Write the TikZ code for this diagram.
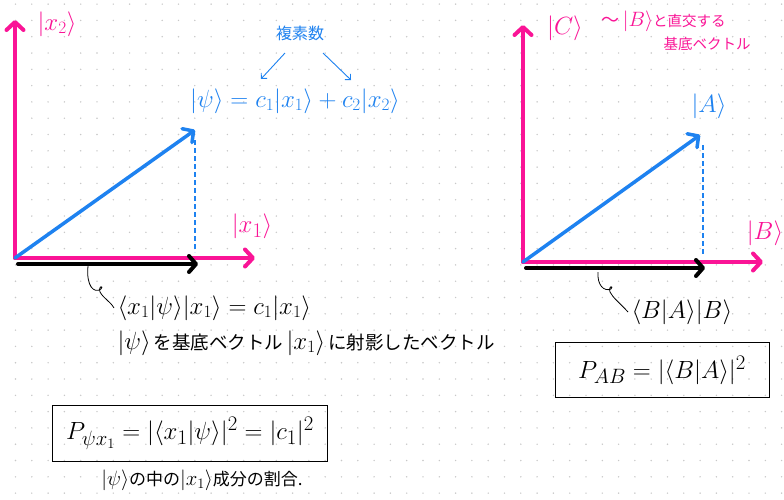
\documentclass[tikz,border=0pt]{standalone}
\usepackage{fontspec}
\newfontfamily\jpfont{Noto Sans CJK JP}
\usetikzlibrary{arrows.meta}
\definecolor{ketpink}{RGB}{250,20,150}
\definecolor{ketblue}{RGB}{30,130,240}
\definecolor{dotgray}{RGB}{200,200,200}
% ket set at a given size inside Japanese text
\newcommand{\inket}[2]{{\fontsize{#1}{#1}\selectfont$#2$}}
\begin{document}
\begin{tikzpicture}[x=1pt,y=-1pt,
    axis/.style={ketpink,line width=4pt,line cap=round,-{Straight Barb[length=8pt,width=17pt,round]}},
    vec/.style={ketblue,line width=3.5pt,line cap=round,-{Straight Barb[length=8pt,width=17pt,round]}},
    proj/.style={black,line width=4pt,line cap=round,-{Straight Barb[length=7pt,width=16pt,round]}},
    drop/.style={ketblue,line width=1.2pt,dash pattern=on 5pt off 3pt},
    pointer/.style={black,line width=0.8pt},
    pinklbl/.style={ketpink,font=\fontsize{28}{32}\selectfont},
    bluelbl/.style={ketblue,font=\fontsize{26}{30}\selectfont},
    note/.style={black,font=\fontsize{23}{26}\selectfont},
    probbox/.style={draw,line width=1pt,inner sep=0pt,font=\fontsize{29}{32}\selectfont}]
    % Background and dotted grid
    \useasboundingbox (0,0) rectangle (784,499);
    \fill[white] (0,0) rectangle (784,499);
    \foreach \gx in {0,...,47}
        \foreach \gy in {0,...,30}
            \fill[dotgray] (15.5+16.3*\gx,4.1+16.3*\gy) circle (0.8);

    % Left panel: basis |x1>, |x2> and state |psi>
    \coordinate (O1) at (15,258);
    \coordinate (X1) at (255,258);
    \coordinate (X2) at (15,20);
    \coordinate (Psi) at (195,130);
    \coordinate (PsiTop) at (195,140);
    \coordinate (PsiFoot) at (195,252);
    \coordinate (ProjLs) at (18,264);
    \coordinate (ProjLe) at (198,264);

    \draw[axis] (O1) -- (X1);
    \draw[axis] (O1) -- (X2);
    \draw[drop] (PsiTop) -- (PsiFoot);
    \draw[vec] (O1) -- (Psi);
    \draw[proj] (ProjLs) -- (ProjLe);

    \node[pinklbl,font=\fontsize{27}{30}\selectfont] (lblx2) at (57,24) {$|x_2\rangle$};
    \node[pinklbl] (lblx1) at (252,226) {$|x_1\rangle$};

    % Expansion of |psi>
    \node[ketblue,font=\jpfont\fontsize{16}{18}\selectfont] (fukuso) at (300,33) {複素数};
    \node[bluelbl] (psieq) at (295,101) {$|\psi\rangle = c_1|x_1\rangle + c_2|x_2\rangle$};
    \coordinate (fa1) at (285,53);
    \coordinate (fa2) at (261,79);
    \coordinate (fb1) at (323,53);
    \coordinate (fb2) at (351,80);
    \draw[ketblue,line width=0.9pt,-{Straight Barb[length=4pt,width=8pt]}] (fa1) -- (fa2);
    \draw[ketblue,line width=0.9pt,-{Straight Barb[length=4pt,width=8pt]}] (fb1) -- (fb2);

    % Projection onto |x1>
    \coordinate (ptrL) at (88,266);
    \node[note,anchor=west] (projeq) at (114,308) {$\langle x_1|\psi\rangle|x_1\rangle = c_1|x_1\rangle$};
    \draw[pointer] (ptrL) .. controls (86,286) and (94,294) .. (101,289)
        .. controls (104,286) and (98,285) .. (100,292)
        .. controls (104,299) and (110,301) .. (projeq.west);
    \node[note,anchor=west,font=\jpfont\fontsize{18.5}{22}\selectfont] (projtxt) at (114,343)
        {\inket{23}{|\psi\rangle}\,を基底ベクトル\,\inket{23}{|x_1\rangle}\,に射影したベクトル};

    % Probability box (left)
    \node[probbox,minimum width=275pt,minimum height=56pt] (probL) at (190,433)
        {$P_{\psi x_1} = |\langle x_1|\psi\rangle|^2 = |c_1|^2$};
    \node[font=\jpfont\fontsize{17}{20}\selectfont] (ratio) at (202,480)
        {\inket{20}{|\psi\rangle}の中の\inket{20}{|x_1\rangle}成分の割合.};

    % Right panel: basis |B>, |C> and state |A>
    \coordinate (O2) at (523,262);
    \coordinate (B) at (763,262);
    \coordinate (C) at (523,25);
    \coordinate (A) at (700,135);
    \coordinate (ATop) at (703,145);
    \coordinate (AFoot) at (703,256);
    \coordinate (ProjRs) at (526,268);
    \coordinate (ProjRe) at (705,268);

    \draw[axis] (O2) -- (B);
    \draw[axis] (O2) -- (C);
    \draw[drop] (ATop) -- (AFoot);
    \draw[vec] (O2) -- (A);
    \draw[proj] (ProjRs) -- (ProjRe);

    \node[pinklbl,font=\fontsize{29}{32}\selectfont] (lblC) at (565,28) {$|C\rangle$};
    \node[ketpink,font=\jpfont\fontsize{14.5}{17}\selectfont,anchor=west] (orth) at (598,21)
        {{\fontsize{18}{20}\selectfont〜} \inket{20}{|B\rangle}と直交する};
    \node[ketpink,font=\jpfont\fontsize{14.5}{17}\selectfont,anchor=west] (orth2) at (660,44) {基底ベクトル};
    \node[bluelbl,font=\fontsize{27}{30}\selectfont] (lblA) at (709,106) {$|A\rangle$};
    \node[pinklbl] (lblB) at (765,233) {$|B\rangle$};

    % Projection onto |B>
    \coordinate (ptrR) at (598,272);
    \node[note,anchor=west] (projB) at (628,312) {$\langle B|A\rangle|B\rangle$};
    \draw[pointer] (ptrR) .. controls (597,285) and (604,292) .. (611,289)
        .. controls (614,286) and (608,285) .. (610,292)
        .. controls (613,298) and (619,302) .. (projB.west);

    % Probability box (right)
    \node[probbox,minimum width=214pt,minimum height=55pt] (probR) at (662,370)
        {$P_{AB} = |\langle B|A\rangle|^2$};
\end{tikzpicture}
\end{document}
